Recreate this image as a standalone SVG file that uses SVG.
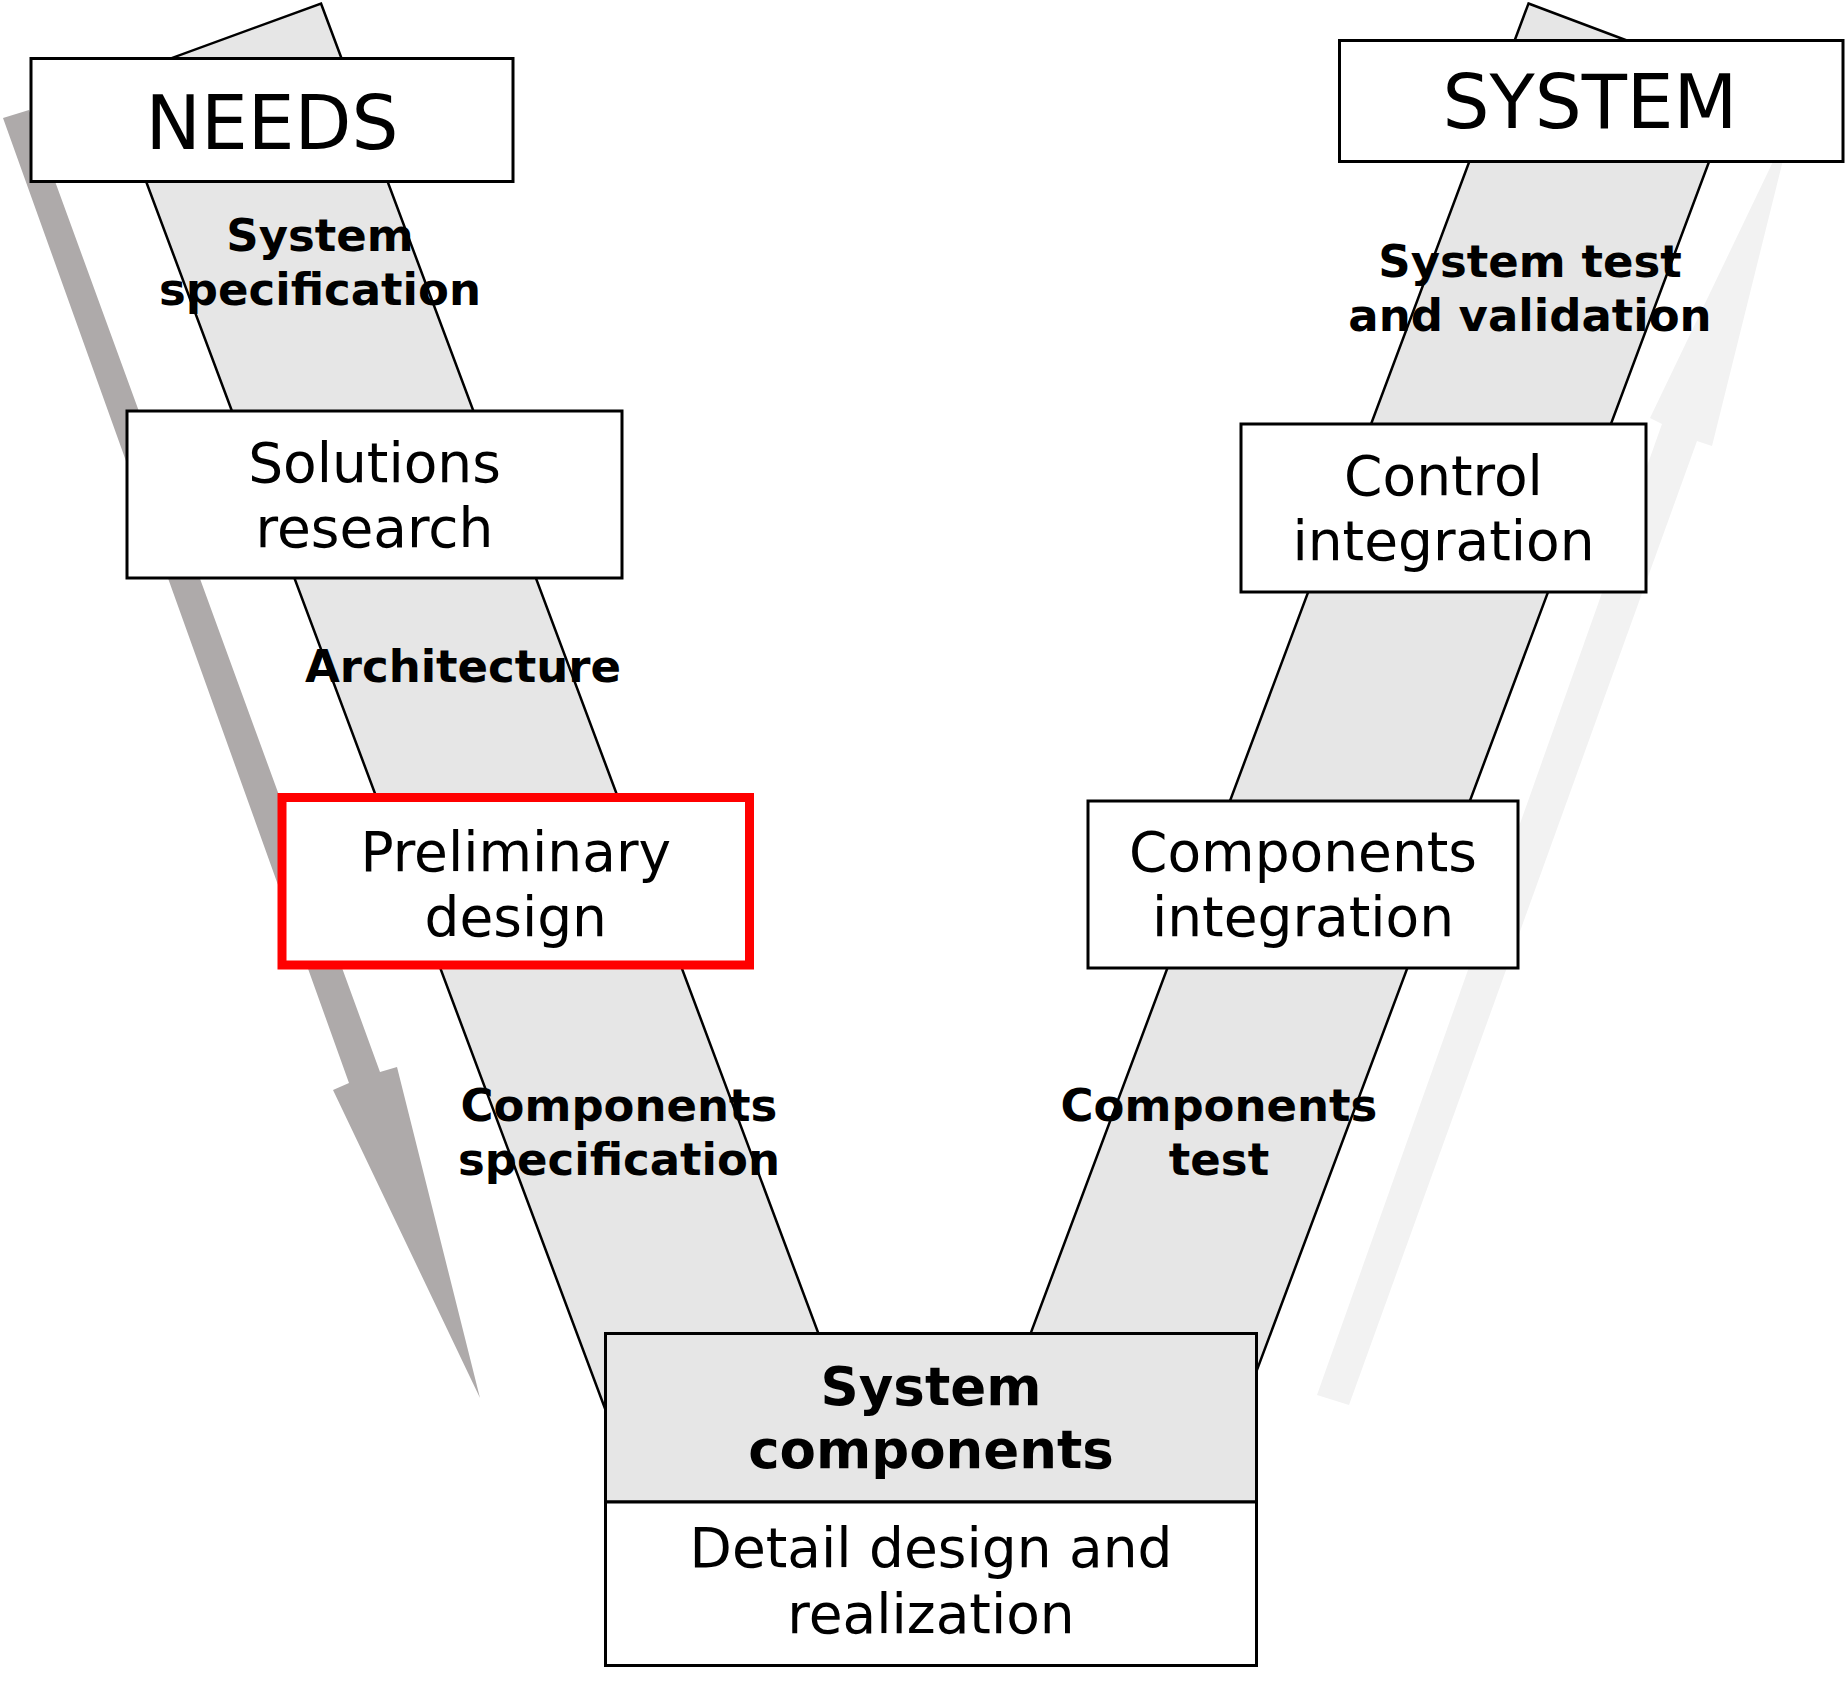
<svg xmlns="http://www.w3.org/2000/svg" width="1847" height="1682" viewBox="0 0 1847 1682">
<style>
.box{fill:#FFFFFF;stroke:#000000;stroke-width:3}
.gbox{fill:#E6E6E6;stroke:#000000;stroke-width:3}
.band{fill:#E6E6E6;stroke:#000000;stroke-width:2.5;stroke-linejoin:miter}
.t{font-family:"DejaVu Sans",Verdana,"Liberation Sans",sans-serif;font-size:55px;fill:#000000;text-anchor:middle}
.big{font-size:74px}
.lbl{font-family:"DejaVu Sans",Verdana,"Liberation Sans",sans-serif;font-size:45px;font-weight:bold;fill:#000000;text-anchor:middle}
.bt{font-weight:bold;font-size:53px}
</style>
<rect width="1847" height="1682" fill="#FFFFFF"/>
<g id="shadows">
<polygon points="3,118 29,110 380,1072 397,1067 480,1398 333,1090 349,1083" fill="#AEAAAA"/>
<polygon points="1793,120 1712,446 1697,441 1349,1405 1317,1395 1662,424 1650,418" fill="#F2F2F2"/>
</g>
<g id="connectors">
<polygon class="band" points="321,3.5 862,1450 620.5,1450 108.6,81.2"/>
<polygon class="band" points="1528.5,3.5 1738.7,82.5 1227,1450 987,1450"/>
<text class="lbl" x="320" y="251">System</text>
<text class="lbl" x="320" y="305">specification</text>
<text class="lbl" x="463" y="682">Architecture</text>
<text class="lbl" x="619" y="1121">Components</text>
<text class="lbl" x="619" y="1175">specification</text>
<text class="lbl" x="1219" y="1121">Components</text>
<text class="lbl" x="1219" y="1175">test</text>
<text class="lbl" x="1530" y="277">System test</text>
<text class="lbl" x="1530" y="331">and validation</text>
</g>
<g id="needs">
<rect class="box" x="31" y="58.5" width="482" height="123"/>
<text class="t big" x="272" y="149">NEEDS</text>
</g>
<g id="system">
<rect class="box" x="1339.5" y="40.5" width="503.5" height="121"/>
<text class="t big" x="1590" y="128">SYSTEM</text>
</g>
<g id="solutions-research">
<rect class="box" x="127" y="411" width="495" height="167"/>
<text class="t" x="374.5" y="482">Solutions</text>
<text class="t" x="374.5" y="547">research</text>
</g>
<g id="preliminary-design">
<rect x="282" y="797.5" width="467.5" height="167.5" fill="#FFFFFF" stroke="#FF0000" stroke-width="9"/>
<text class="t" x="515.75" y="870.5">Preliminary</text>
<text class="t" x="515.75" y="935.5">design</text>
</g>
<g id="control-integration">
<rect class="box" x="1241" y="424" width="405" height="168"/>
<text class="t" x="1443.5" y="495">Control</text>
<text class="t" x="1443.5" y="560">integration</text>
</g>
<g id="components-integration">
<rect class="box" x="1088" y="801" width="430" height="167"/>
<text class="t" x="1303" y="871">Components</text>
<text class="t" x="1303" y="936">integration</text>
</g>
<g id="system-components">
<rect class="gbox" x="605.5" y="1333.5" width="651" height="168.5"/>
<rect class="box" x="605.5" y="1502" width="651" height="163.5"/>
<text class="t bt" x="931" y="1405">System</text>
<text class="t bt" x="931" y="1468">components</text>
<text class="t" x="931" y="1567">Detail design and</text>
<text class="t" x="931" y="1633">realization</text>
</g>
</svg>
